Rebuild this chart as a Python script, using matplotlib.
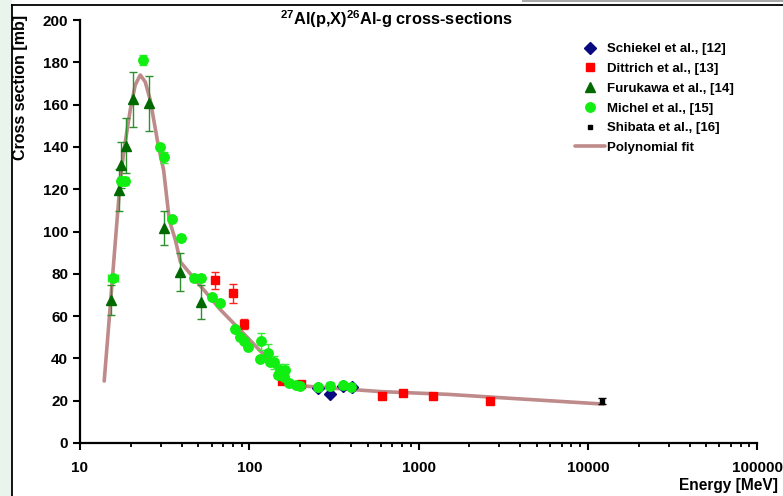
import matplotlib
matplotlib.use("Agg")
import matplotlib.pyplot as plt
from matplotlib.patches import Rectangle
from matplotlib.lines import Line2D

plt.rcParams['font.family'] = ['Liberation Sans', 'DejaVu Sans']
plt.rcParams['font.weight'] = 'bold'
plt.rcParams['mathtext.fontset'] = 'custom'
plt.rcParams['mathtext.rm'] = 'Liberation Sans:bold'
plt.rcParams['mathtext.default'] = 'rm'

# Schiekel et al. [12]
sch_E = [256, 300, 356, 402]
sch_s = [25.9, 23.2, 27.0, 26.6]

# Dittrich et al. [13]
dit_E = [63.1, 80.0, 92.9, 156.8, 203, 605, 805, 1213, 2630]
dit_s = [77.0, 70.8, 56.3, 29.3, 27.9, 22.4, 23.5, 22.4, 19.9]
dit_err = [4.0, 4.5, 2.5, 0, 0, 0, 0, 0, 0]

# Furukawa et al. [14]
fur_E = [15.2, 16.9, 17.4, 18.6, 20.7, 25.6, 31.2, 39.2, 51.9]
fur_s = [67.6, 119.6, 131.5, 140.5, 162.6, 160.6, 101.6, 81.0, 66.8]
fur_err = [7, 10, 11, 13, 13, 13, 8, 9, 8]

# Michel et al. [15]
mic_E = [15.7, 17.5, 18.5, 23.7, 29.8, 31.2, 34.9, 39.7, 47.4, 51.9, 60.4, 67.0,
         81.9, 88.0, 93.7, 98.6, 116.7, 115.0, 128.8, 132.0, 140.0, 151.6, 162.4,
         147.5, 160.0, 171.7, 188.0, 199.5, 256, 300, 360, 398]
mic_s = [77.9, 124.0, 124.0, 181.0, 140.0, 135.0, 106.0, 97.0, 77.9, 77.9, 69.2, 66.3,
         53.7, 50.0, 48.4, 45.2, 48.2, 39.6, 42.7, 38.2, 38.2, 34.5, 34.5,
         32.2, 31.4, 28.2, 27.4, 27.0, 26.3, 27.0, 27.4, 26.6]
mic_err = [0, 2, 2, 2.5, 1.5, 2.5, 1, 1.5, 1.5, 1.5, 1, 1,
           1, 1, 1, 1, 4, 1, 4, 1, 3, 3, 3,
           1, 1, 1, 1, 1, 1, 2, 1, 1]
mic_xerr = [1.0, 0.5, 0, 0, 0, 0, 0, 0, 0, 0, 0, 0,
            0, 0, 0, 0, 0, 0, 0, 0, 0, 0, 0,
            0, 0, 0, 0, 0, 0, 0, 0, 0]

# Shibata et al. [16]
shi_E = [12200]
shi_s = [19.9]
shi_err = [1.5]

# Polynomial fit
fit_E = [13.9, 14.7, 16.2, 17.3, 18.2, 19.8, 21.2, 22.7, 24.3, 26.0, 29.1, 31.2,
         33.7, 36.6, 39.2, 67.6, 97.2, 128, 176, 303, 600, 1493, 3700, 12400]
fit_s = [29.3, 53.4, 96.0, 124.3, 138.5, 157.4, 169.3, 174.0, 170.7, 162.2, 140.0, 129.0,
         105.4, 96.0, 85.6, 63.0, 50.0, 40.0, 27.4, 26.0, 24.3, 23.0, 21.0, 18.4]

fig = plt.figure(figsize=(7.83, 4.96), dpi=100, facecolor='white')

# page decoration around the chart
fig.add_artist(Rectangle((0, 0), 12/783, 1, transform=fig.transFigure,
                         facecolor='#e9f4ec', edgecolor='none', zorder=0))
fig.add_artist(Rectangle((522/783, 1-2/496), 1, 2/496, transform=fig.transFigure,
                         facecolor='#a8a8a8', edgecolor='none', zorder=0))
fig.add_artist(Line2D([12/783, 12/783], [0, 1-5/496], transform=fig.transFigure,
                      color='black', lw=1.3))
fig.add_artist(Line2D([12/783, 1], [1-5/496, 1-5/496], transform=fig.transFigure,
                      color='black', lw=1.3))

ax = fig.add_axes([80/783, 1-443/496, 677/783, 423/496])
ax.set_xscale('log')
ax.set_xlim(10, 100000)
ax.set_ylim(0, 200)

fit_col = '#bf8a8a'
h_fit, = ax.plot(fit_E, fit_s, color=fit_col, lw=2.6, solid_capstyle='round', zorder=2,
                 label='Polynomial fit')

ax.errorbar(fur_E, fur_s, yerr=fur_err, fmt='none', ecolor='#2f8f2f', elinewidth=1,
            capsize=3, zorder=3)
ax.errorbar(dit_E, dit_s, yerr=dit_err, fmt='none', ecolor='#ff2020', elinewidth=1,
            capsize=3, zorder=3)
ax.errorbar(mic_E, mic_s, yerr=mic_err, xerr=mic_xerr, fmt='none', ecolor='#33ee33',
            elinewidth=1, capsize=3, zorder=3)
ax.errorbar(shi_E, shi_s, yerr=shi_err, fmt='none', ecolor='black', elinewidth=1,
            capsize=3, zorder=3)

h_sch, = ax.plot(sch_E, sch_s, 'D', color='#0a0a80', ms=6, ls='none', zorder=4,
                 label='Schiekel et al., [12]')
h_dit, = ax.plot(dit_E, dit_s, 's', color='#ff0000', ms=6.3, ls='none', zorder=4,
                 label='Dittrich et al., [13]')
h_fur, = ax.plot(fur_E, fur_s, '^', color='#006a00', ms=7.3, ls='none', zorder=4,
                 label='Furukawa et al., [14]')
h_mic, = ax.plot(mic_E, mic_s, 'o', color='#11ee11', ms=6.8, ls='none', zorder=5,
                 label='Michel et al., [15]')
h_shi, = ax.plot(shi_E, shi_s, 's', color='black', ms=2.5, ls='none', zorder=5,
                 label='Shibata et al., [16]')

ax.legend(handles=[h_sch, h_dit, h_fur, h_mic, h_shi, h_fit], loc='upper left',
          bbox_to_anchor=(575/783, 1-43/496), bbox_transform=fig.transFigure,
          frameon=False, fontsize=9.5, handlelength=2.3, handletextpad=0.15,
          labelspacing=0.57, borderpad=0, borderaxespad=0, numpoints=1)

for s in ['top', 'right']:
    ax.spines[s].set_visible(False)
for s in ['left', 'bottom']:
    ax.spines[s].set_linewidth(1.6)

ax.set_yticks(range(0, 201, 20))
ax.tick_params(axis='y', direction='out', length=5, width=1.5, pad=3.5, labelsize=11)
ax.tick_params(axis='x', which='major', direction='out', length=5, width=1.5, pad=8,
               labelsize=11)
ax.tick_params(axis='x', which='minor', direction='out', length=3, width=1.3)
ax.set_xticks([10, 100, 1000, 10000, 100000])
ax.set_xticklabels(['10', '100', '1000', '10000', '100000'])

ax.set_ylabel('Cross section [mb]', fontsize=11.5, fontweight='bold', loc='top')
ax.yaxis.set_label_coords(-0.077, 1.012)
ax.set_xlabel('Energy [MeV]', fontsize=11.2, fontweight='bold', loc='right')
ax.xaxis.set_label_coords(1.031, -0.083)

fig.text(280/783, 1-19/496, r'$^{27}$Al(p,X)$^{26}$Al-g cross-sections',
         fontsize=11.8, fontweight='bold', ha='left', va='center')

fig.savefig('out.png', dpi=100, facecolor='white')
